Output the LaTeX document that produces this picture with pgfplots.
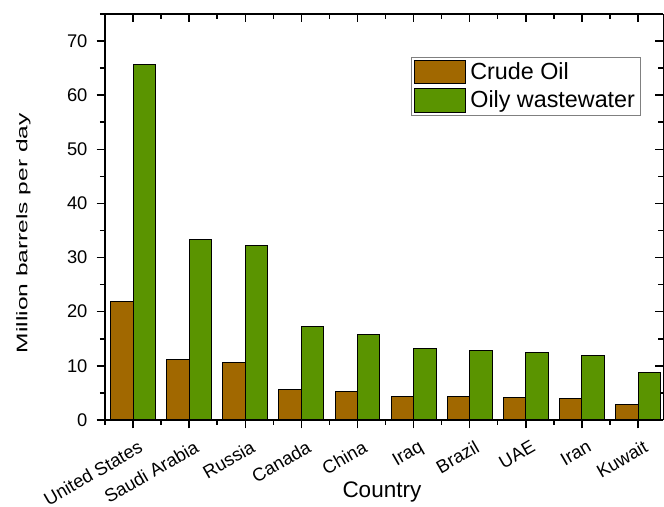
\documentclass[border=0pt]{standalone}
\usepackage{pgfplots}
\pgfplotsset{compat=1.18}
\usepackage{fontspec}
\setmainfont{Liberation Sans}
\definecolor{crude}{RGB}{161,104,0}
\definecolor{oily}{RGB}{90,148,0}
\begin{document}
\begin{tikzpicture}
\pgfplotsset{
  common/.style={
    width=335pt, height=243.6pt, scale only axis,
    ymin=0, ymax=75, xmin=-0.5, xmax=9.45,
    xtick={0,...,9},
    minor xtick={-0.5,0.5,1.5,...,8.5},
    ytick={0,10,...,70},
    minor ytick={5,15,...,75},
    axis line style={line width=0.9pt,-},
    major tick style={line width=0.9pt,black},
    minor tick style={line width=0.9pt,black},
    major tick length=5pt, minor tick length=3pt,
    /pgf/number format/assume math mode=true,
  }
}
\begin{scope}[overlay]
\begin{axis}[common,
  axis x line*=top, axis y line*=right, tick align=inside,
  xticklabels={}, yticklabels={}]
\end{axis}
\end{scope}
\begin{axis}[common,
  axis x line*=bottom, axis y line*=left, tick align=outside,
  xticklabels={United States,Saudi Arabia,Russia,Canada,China,Iraq,Brazil,UAE,Iran,Kuwait},
  x tick label style={rotate=30, anchor=north east, font=\fontsize{11}{13}\selectfont, inner sep=0pt, xshift=-1pt, yshift=-7pt},
  y tick label style={font=\fontsize{11}{13}\selectfont, xshift=-2pt},
  xlabel={Country}, ylabel={Million barrels per day},
  xlabel style={at={(axis description cs:0.496,0)}, anchor=north, inner sep=0pt, yshift=-37pt, font=\fontsize{13.5}{16}\selectfont},
  ylabel style={at={(axis description cs:-0.146,0.46)}, anchor=center, inner sep=0pt, font=\fontsize{9.2}{11}\selectfont, xscale=1.6},
  legend style={at={(0.9606,0.894)}, anchor=north east, draw=gray, line width=0.5pt,
    font=\fontsize{14}{16}\selectfont, row sep=2.5pt, inner xsep=1pt, inner ysep=1.5pt,
    nodes={inner xsep=2.5pt, inner ysep=0.8pt}},
  legend cell align=left,
  legend image code/.code={\draw[#1, draw=black, line width=0.6pt] (0pt,-7pt) rectangle (31pt,7pt);},
]
\addplot[ybar, bar width=0.4, bar shift=-0.2, fill=crude, draw=black, line width=0.6pt]
 coordinates {(0,21.9) (1,11.1) (2,10.7) (3,5.7) (4,5.2) (5,4.4) (6,4.25) (7,4.1) (8,3.9) (9,2.8)};
\addlegendentry{Crude Oil}
\addplot[ybar, bar width=0.4, bar shift=0.2, fill=oily, draw=black, line width=0.6pt]
 coordinates {(0,65.7) (1,33.3) (2,32.2) (3,17.2) (4,15.8) (5,13.2) (6,12.75) (7,12.4) (8,11.9) (9,8.75)};
\addlegendentry{Oily wastewater}
\end{axis}
\path (current axis.north west) ++(-63pt,8.4pt);
\end{tikzpicture}
\end{document}
